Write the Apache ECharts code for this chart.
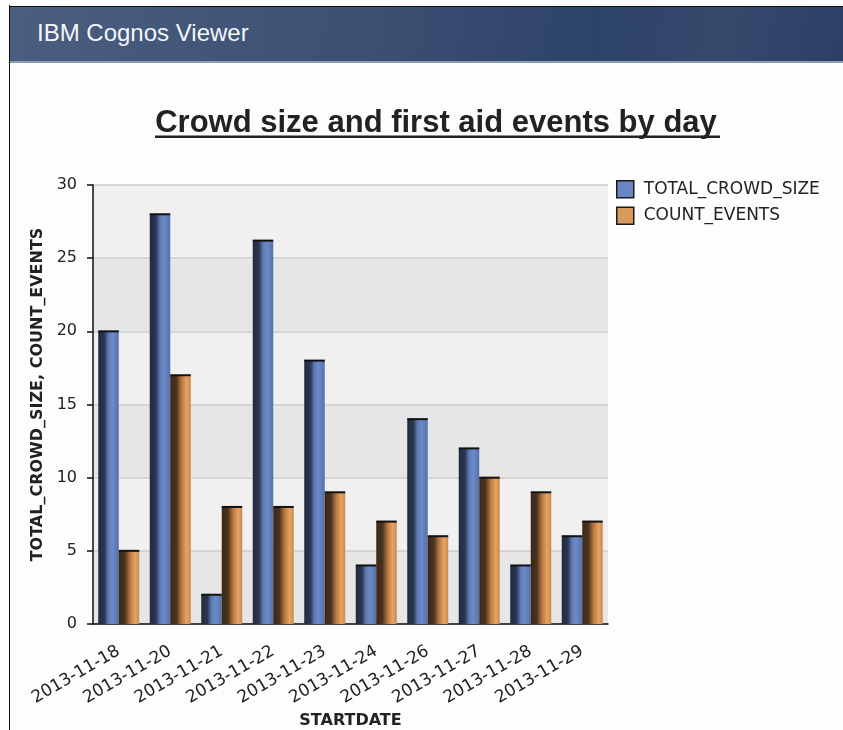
<!DOCTYPE html>
<html>
<head>
<meta charset="utf-8">
<script src="https://cdn.jsdelivr.net/npm/echarts@6/dist/echarts.min.js"></script>
<style>
  html, body { margin: 0; padding: 0; background: #fdfdfd; }
  #page { position: relative; width: 843px; height: 730px; overflow: hidden; }
  #header {
    position: absolute; left: 10px; top: 6px; width: 833px; height: 54px;
    border-top: 1px solid #111; border-bottom: 2px solid #8a9bb4;
    background: linear-gradient(100deg, #4a5e80 0%, #3a4f72 45%, #2d4367 70%, #34496c 85%, #2b4064 100%);
  }
  #header span {
    position: absolute; left: 27px; top: 12px;
    font: 24px "Liberation Sans", Arial, sans-serif; color: #f4f6fa;
  }
  #frame { position: absolute; left: 9px; top: 5px; width: 1px; height: 725px; background: #111; }
  #chart { position: absolute; left: 0; top: 0; width: 843px; height: 730px; }
</style>
</head>
<body>
<div id="page">
  <div id="chart"></div>
  <div id="header"><span>IBM Cognos Viewer</span></div>
  <div id="frame"></div>
</div>
<script>
const categories = ["2013-11-18", "2013-11-20", "2013-11-21", "2013-11-22", "2013-11-23",
  "2013-11-24", "2013-11-26", "2013-11-27", "2013-11-28", "2013-11-29"];
const crowdSize = [20, 28, 2, 26.2, 18, 4, 14, 12, 4, 6];
const countEvents = [5, 17, 8, 8, 9, 7, 6, 10, 9, 7];
const yTicks = { min: 0, max: 30, interval: 5 };

const chart = echarts.init(document.getElementById("chart"));

const blueFill = new echarts.graphic.LinearGradient(0, 0, 1, 0, [
  { offset: 0, color: "#232a3e" },
  { offset: 0.3, color: "#2b3652" },
  { offset: 0.5, color: "#5e7bb6" },
  { offset: 0.7, color: "#6c8ac8" },
  { offset: 1, color: "#5571a8" },
]);
const orangeFill = new echarts.graphic.LinearGradient(0, 0, 1, 0, [
  { offset: 0, color: "#3a2817" },
  { offset: 0.3, color: "#4a3320" },
  { offset: 0.55, color: "#b8773f" },
  { offset: 0.8, color: "#e6a363" },
  { offset: 1, color: "#c98a4f" },
]);

const axisFont = "DejaVu Sans";

// thin dark line on top of each bar
function cap(name, values) {
  return {
    name: name,
    type: "pictorialBar",
    symbol: "rect",
    symbolSize: [20.5, 2],
    symbolPosition: "end",
    symbolOffset: [0, -1],
    barWidth: 20.5,
    barGap: "0%",
    z: 5,
    silent: true,
    itemStyle: { color: "#111" },
    data: values,
  };
}

chart.setOption({
  backgroundColor: "#fdfdfd",
  animation: false,
  textStyle: { fontFamily: axisFont },
  title: {
    text: "Crowd size and first aid events by day",
    left: 431,
    textAlign: "center",
    top: 103,
    textStyle: { fontFamily: "Liberation Sans", fontWeight: "bold", fontSize: 31, color: "#222" },
  },
  graphic: [
    { type: "rect", shape: { x: 155, y: 135.5, width: 565, height: 2.5 }, style: { fill: "#222" } },
  ],
  legend: {
    orient: "vertical",
    left: 616,
    top: 180,
    padding: 0,
    itemWidth: 17,
    itemHeight: 17,
    itemGap: 8,
    icon: "rect",
    textStyle: { fontFamily: axisFont, fontSize: 17, color: "#222", padding: [0, 0, 0, 5] },
    data: [
      { name: "TOTAL_CROWD_SIZE", itemStyle: { color: "#6a86c2", borderColor: "#1a1a1a", borderWidth: 1.5 } },
      { name: "COUNT_EVENTS", itemStyle: { color: "#d99a5e", borderColor: "#1a1a1a", borderWidth: 1.5 } },
    ],
  },
  grid: { left: 93, right: 235, top: 185, bottom: 106, outerBoundsMode: "none" },
  xAxis: {
    type: "category",
    data: categories,
    name: "STARTDATE",
    nameLocation: "middle",
    nameGap: 89,
    nameTextStyle: { fontFamily: axisFont, fontWeight: "bold", fontSize: 16, color: "#222" },
    axisLine: { lineStyle: { color: "#111", width: 1.5 } },
    axisTick: { alignWithLabel: true, length: 6, lineStyle: { color: "#111", width: 1.5 } },
    axisLabel: { rotate: 30, margin: 26, fontSize: 17, color: "#222", fontFamily: axisFont },
  },
  yAxis: {
    type: "value",
    min: yTicks.min,
    max: yTicks.max,
    interval: yTicks.interval,
    name: "TOTAL_CROWD_SIZE, COUNT_EVENTS",
    nameLocation: "middle",
    nameRotate: 90,
    nameGap: 42,
    nameTextStyle: { fontFamily: axisFont, fontWeight: "bold", fontSize: 16, color: "#222", padding: [0, 0, 0, 20] },
    axisLine: { show: true, lineStyle: { color: "#111", width: 1.5 } },
    axisTick: { show: true, length: 6, lineStyle: { color: "#111", width: 1.5 } },
    axisLabel: { margin: 16, fontSize: 16, color: "#222", fontFamily: axisFont },
    splitLine: { lineStyle: { color: "#cdcdcd", width: 1.5 } },
    splitArea: { show: true, areaStyle: { color: ["#e6e6e6", "#f0f0f0"] } },
  },
  series: [
    {
      name: "TOTAL_CROWD_SIZE",
      type: "bar",
      barWidth: 20.5,
      barGap: "0%",
      itemStyle: { color: blueFill },
      data: crowdSize,
    },
    {
      name: "COUNT_EVENTS",
      type: "bar",
      barWidth: 20.5,
      barGap: "0%",
      itemStyle: { color: orangeFill },
      data: countEvents,
    },
    cap("crowdCap", crowdSize),
    cap("eventsCap", countEvents),
  ],
});
</script>
</body>
</html>
